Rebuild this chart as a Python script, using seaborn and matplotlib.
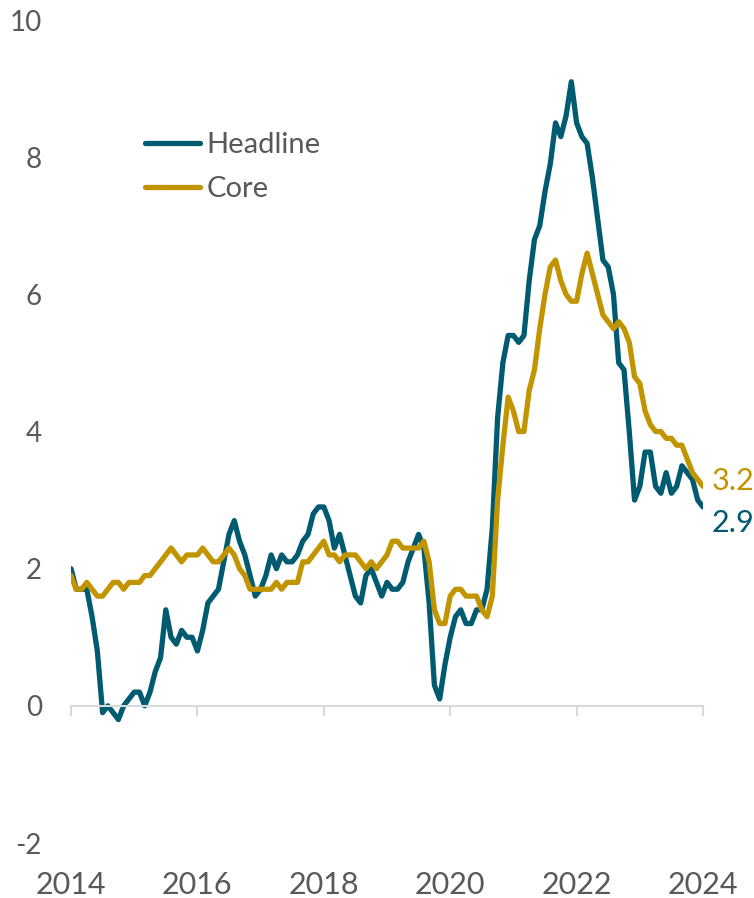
import matplotlib
matplotlib.use("Agg")
import matplotlib.pyplot as plt
from matplotlib.lines import Line2D
import pandas as pd
import seaborn as sns

# Monthly year-over-year inflation, Jul 2014 .. Jul 2024 (%)
headline = [
    2.0, 1.7, 1.7, 1.7, 1.3, 0.8,
    -0.1, 0.0, -0.1, -0.2, 0.0, 0.1, 0.2, 0.2, 0.0, 0.2, 0.5, 0.7,
    1.4, 1.0, 0.9, 1.1, 1.0, 1.0, 0.8, 1.1, 1.5, 1.6, 1.7, 2.1,
    2.5, 2.7, 2.4, 2.2, 1.9, 1.6, 1.7, 1.9, 2.2, 2.0, 2.2, 2.1,
    2.1, 2.2, 2.4, 2.5, 2.8, 2.9, 2.9, 2.7, 2.3, 2.5, 2.2, 1.9,
    1.6, 1.5, 1.9, 2.0, 1.8, 1.6, 1.8, 1.7, 1.7, 1.8, 2.1, 2.3,
    2.5, 2.3, 1.5, 0.3, 0.1, 0.6, 1.0, 1.3, 1.4, 1.2, 1.2, 1.4,
    1.4, 1.7, 2.6, 4.2, 5.0, 5.4, 5.4, 5.3, 5.4, 6.2, 6.8, 7.0,
    7.5, 7.9, 8.5, 8.3, 8.6, 9.1, 8.5, 8.3, 8.2, 7.7, 7.1, 6.5,
    6.4, 6.0, 5.0, 4.9, 4.0, 3.0, 3.2, 3.7, 3.7, 3.2, 3.1, 3.4,
    3.1, 3.2, 3.5, 3.4, 3.3, 3.0, 2.9,
]
core = [
    1.9, 1.7, 1.7, 1.8, 1.7, 1.6,
    1.6, 1.7, 1.8, 1.8, 1.7, 1.8, 1.8, 1.8, 1.9, 1.9, 2.0, 2.1,
    2.2, 2.3, 2.2, 2.1, 2.2, 2.2, 2.2, 2.3, 2.2, 2.1, 2.1, 2.2,
    2.3, 2.2, 2.0, 1.9, 1.7, 1.7, 1.7, 1.7, 1.7, 1.8, 1.7, 1.8,
    1.8, 1.8, 2.1, 2.1, 2.2, 2.3, 2.4, 2.2, 2.2, 2.1, 2.2, 2.2,
    2.2, 2.1, 2.0, 2.1, 2.0, 2.1, 2.2, 2.4, 2.4, 2.3, 2.3, 2.3,
    2.3, 2.4, 2.1, 1.4, 1.2, 1.2, 1.6, 1.7, 1.7, 1.6, 1.6, 1.6,
    1.4, 1.3, 1.6, 3.0, 3.8, 4.5, 4.3, 4.0, 4.0, 4.6, 4.9, 5.5,
    6.0, 6.4, 6.5, 6.2, 6.0, 5.9, 5.9, 6.3, 6.6, 6.3, 6.0, 5.7,
    5.6, 5.5, 5.6, 5.5, 5.3, 4.8, 4.7, 4.3, 4.1, 4.0, 4.0, 3.9,
    3.9, 3.8, 3.8, 3.6, 3.4, 3.3, 3.2,
]
series_names = ["Headline", "Core"]
tick_labels = ["2014", "2016", "2018", "2020", "2022", "2024"]
tick_months = [0, 24, 48, 72, 96, 120]
y_ticks = [-2, 0, 2, 4, 6, 8, 10]

TEAL = "#005A70"
GOLD = "#C29400"
GREY_TXT = "#595959"
AXIS_GREY = "#D9D9D9"

n = len(headline)
months = list(range(n))
df = pd.DataFrame({
    "month": months * 2,
    "value": headline + core,
    "series": [series_names[0]] * n + [series_names[1]] * n,
})

sns.set_style("white")
plt.rcParams["font.family"] = ["Lato", "DejaVu Sans"]

fig = plt.figure(figsize=(7.54, 8.98), dpi=100)
ax = fig.add_axes([71 / 754, 55 / 898, 632 / 754, 823 / 898])

sns.lineplot(data=df, x="month", y="value", hue="series",
             hue_order=series_names,
             palette={"Headline": TEAL, "Core": GOLD},
             linewidth=3.8, ax=ax, legend=False)

ax.set_xlim(0, 120)
ax.set_ylim(-2, 10)
ax.set_xlabel("")
ax.set_ylabel("")

for s in ["top", "right", "left"]:
    ax.spines[s].set_visible(False)
ax.spines["bottom"].set_position(("data", 0))
ax.spines["bottom"].set_color(AXIS_GREY)
ax.spines["bottom"].set_linewidth(1.5)

ax.set_xticks(tick_months)
ax.tick_params(axis="x", bottom=True, direction="out", length=7.5, width=1.5,
               color=AXIS_GREY, labelbottom=False)
ax.set_yticks(y_ticks)
ax.set_yticklabels([str(v) for v in y_ticks])
ax.tick_params(axis="y", left=False, length=0, pad=21, labelsize=20,
               labelcolor=GREY_TXT)

sec = ax.secondary_xaxis("bottom")
sec.set_xticks(tick_months, labels=tick_labels)
sec.tick_params(length=0, pad=20, labelsize=22, labelcolor=GREY_TXT)
sec.spines["bottom"].set_visible(False)

# end labels
ax.annotate(f"{core[-1]:.1f}", xy=(months[-1], core[-1]),
            xytext=(9, 5), textcoords="offset pixels",
            ha="left", va="center", fontsize=22, color=GOLD,
            annotation_clip=False)
ax.annotate(f"{headline[-1]:.1f}", xy=(months[-1], headline[-1]),
            xytext=(9, -16), textcoords="offset pixels",
            ha="left", va="center", fontsize=22, color=TEAL,
            annotation_clip=False)

handles = [Line2D([0], [0], color=TEAL, lw=3.8, solid_capstyle="round"),
           Line2D([0], [0], color=GOLD, lw=3.8, solid_capstyle="round")]
leg = ax.legend(handles, series_names, loc="upper left",
                bbox_to_anchor=(145 / 754, 1 - 132 / 898),
                bbox_transform=fig.transFigure, frameon=False,
                fontsize=21, handlelength=1.9, handletextpad=0.2,
                labelspacing=0.62, borderpad=0, borderaxespad=0)
for t in leg.get_texts():
    t.set_color(GREY_TXT)

fig.savefig("out.png", dpi=100)
